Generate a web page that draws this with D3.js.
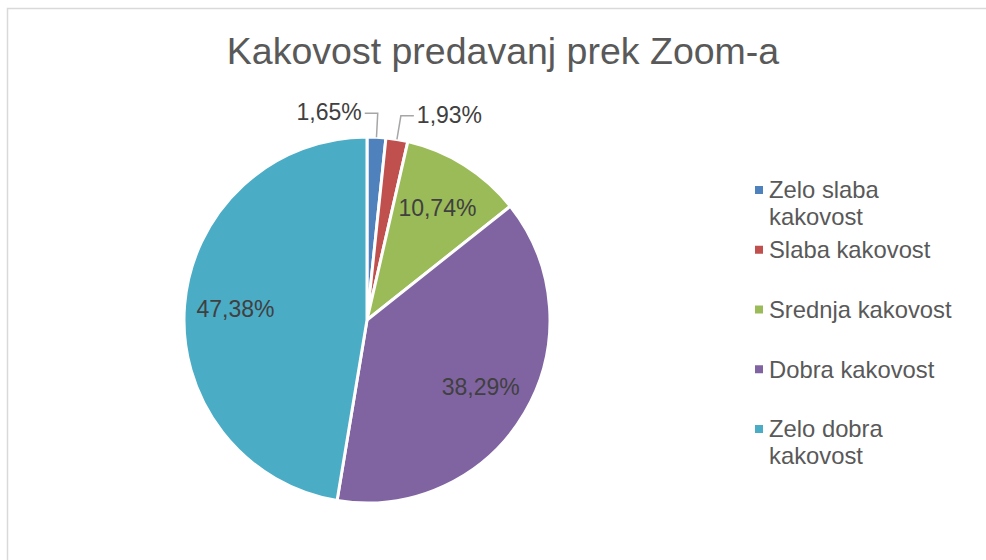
<!DOCTYPE html>
<html>
<head>
<meta charset="utf-8">
<script src="https://cdn.jsdelivr.net/npm/d3@7"></script>
<style>
  body { margin: 0; background: #fff; }
  svg { font-family: "Liberation Sans", Arial, sans-serif; }
</style>
</head>
<body>
<svg width="986" height="560"></svg>
<script>
// data
const categories = ["Zelo slaba kakovost", "Slaba kakovost", "Srednja kakovost", "Dobra kakovost", "Zelo dobra kakovost"];
const legendLines = [["Zelo slaba", "kakovost"], ["Slaba kakovost"], ["Srednja kakovost"], ["Dobra kakovost"], ["Zelo dobra", "kakovost"]];
const values = [1.65, 1.93, 10.74, 38.29, 47.38];
const colors = ["#4f81bd", "#c0504d", "#9bbb59", "#8064a2", "#4bacc6"];

const svg = d3.select("svg");

// frame
svg.append("rect")
    .attr("x", 7.5).attr("y", 8.5)
    .attr("width", 990).attr("height", 560)
    .attr("fill", "#fff")
    .attr("stroke", "#d9d9d9")
    .attr("stroke-width", 1.5);

// title
svg.append("text")
    .attr("x", 503).attr("y", 64)
    .attr("text-anchor", "middle")
    .attr("font-size", 37.5)
    .attr("fill", "#595959")
    .text("Kakovost predavanj prek Zoom-a");

const color = d3.scaleOrdinal().domain(categories).range(colors);
const cx = 367, cy = 320, r = 183;

const pie = d3.pie().sort(null).value(d => d.v);
const arcs = pie(values.map((v, i) => ({ v, c: categories[i] })));
const arc = d3.arc().innerRadius(0).outerRadius(r);
const labelArc = d3.arc().innerRadius(132).outerRadius(132);
const edgeArc = d3.arc().innerRadius(r).outerRadius(r);
const elbowArc = d3.arc().innerRadius(r + 24).outerRadius(r + 24);

const g = svg.append("g").attr("transform", `translate(${cx},${cy})`);

g.selectAll("path.slice")
  .data(arcs)
  .enter().append("path")
    .attr("class", "slice")
    .attr("d", arc)
    .attr("fill", d => color(d.data.c))
    .attr("stroke", "#fff")
    .attr("stroke-width", 3)
    .attr("stroke-linejoin", "round");

const fmt = v => v.toFixed(2).replace(".", ",") + "%";

// inside labels
g.selectAll("text.inside")
  .data(arcs.filter(d => d.data.v > 5))
  .enter().append("text")
    .attr("class", "inside")
    .attr("transform", d => `translate(${labelArc.centroid(d)})`)
    .attr("text-anchor", "middle")
    .attr("dy", "0.35em")
    .attr("font-size", 23)
    .attr("fill", "#404040")
    .text(d => fmt(d.data.v));

// outside labels with leader lines
const small = arcs.filter(d => d.data.v <= 5);
small.forEach((d, i) => {
  const side = i === 0 ? -1 : 1;
  const p0 = edgeArc.centroid(d);
  const p1 = elbowArc.centroid(d);
  const p2 = [p1[0] + side * 13, p1[1]];
  g.append("polyline")
    .attr("points", [p0, p1, p2].map(p => p.join(",")).join(" "))
    .attr("fill", "none")
    .attr("stroke", "#a6a6a6")
    .attr("stroke-width", 1.5);
  g.append("text")
    .attr("x", p2[0] + side * 3)
    .attr("y", p2[1] - 1)
    .attr("dy", "0.35em")
    .attr("text-anchor", side < 0 ? "end" : "start")
    .attr("font-size", 23)
    .attr("fill", "#404040")
    .text(fmt(d.data.v));
});

// legend
const ly = d3.scalePoint().domain(categories).range([190, 429]);
const legend = svg.append("g").selectAll("g")
  .data(categories)
  .enter().append("g")
    .attr("transform", d => `translate(755,${ly(d)})`);

legend.append("rect")
    .attr("x", 0).attr("y", -4)
    .attr("width", 8).attr("height", 8)
    .attr("fill", d => color(d));

legend.append("text")
    .attr("x", 14)
    .attr("font-size", 23.8)
    .attr("fill", "#595959")
    .selectAll("tspan")
    .data((d, i) => legendLines[i])
    .enter().append("tspan")
      .attr("x", 14)
      .attr("y", (d, j) => j * 27)
      .attr("dy", "0.35em")
      .text(d => d);
</script>
</body>
</html>
